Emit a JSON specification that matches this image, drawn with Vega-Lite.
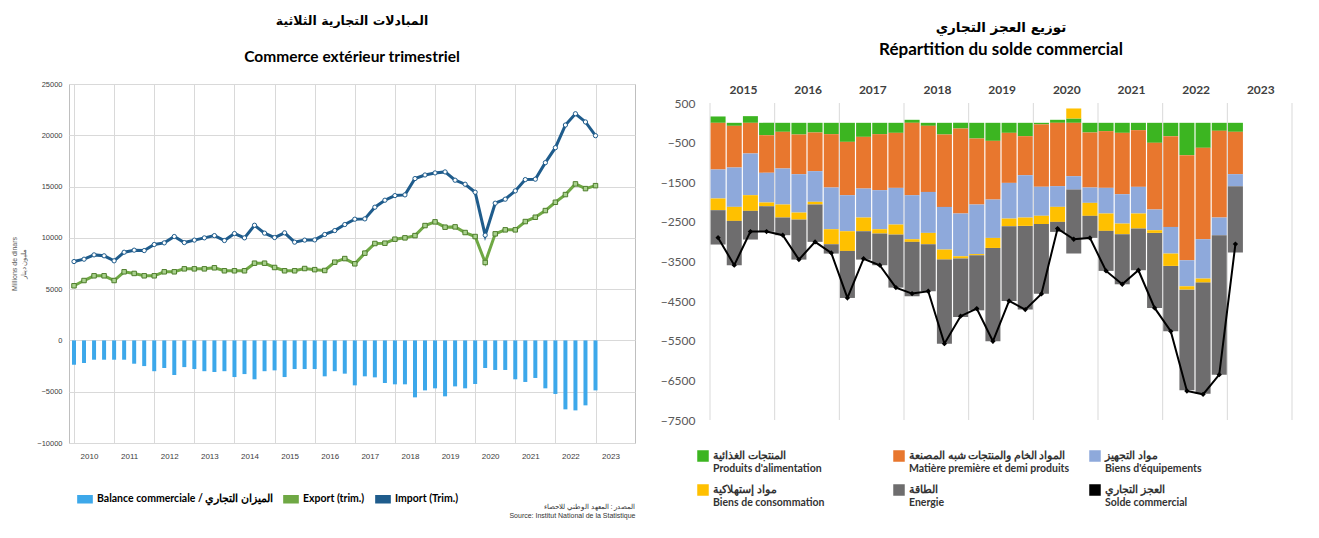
{
  "$schema": "https://vega.github.io/schema/vega-lite/v6.json",
  "background": "white",
  "padding": {"left": 10, "top": 14, "right": 5, "bottom": 5},
  "spacing": 24,
  "resolve": {"scale": {"color": "independent"}, "legend": {"color": "independent"}},
  "config": {
    "font": "Lato",
    "view": {"stroke": "#BFBFBF"},
    "axis": {"gridColor": "#D9D9D9", "ticks": false, "domain": false, "labelColor": "#404040"}
  },
  "datasets": {
    "trade": [
      {"t": 2010.00, "exp": 5330, "imp": 7690, "bal": -2370},
      {"t": 2010.25, "exp": 5840, "imp": 7920, "bal": -2200},
      {"t": 2010.50, "exp": 6300, "imp": 8340, "bal": -1880},
      {"t": 2010.75, "exp": 6300, "imp": 8250, "bal": -1880},
      {"t": 2011.00, "exp": 5840, "imp": 7760, "bal": -1880},
      {"t": 2011.25, "exp": 6690, "imp": 8600, "bal": -1880},
      {"t": 2011.50, "exp": 6530, "imp": 8800, "bal": -2270},
      {"t": 2011.75, "exp": 6300, "imp": 8760, "bal": -2500},
      {"t": 2012.00, "exp": 6300, "imp": 9350, "bal": -3000},
      {"t": 2012.25, "exp": 6690, "imp": 9510, "bal": -2690},
      {"t": 2012.50, "exp": 6690, "imp": 10130, "bal": -3370},
      {"t": 2012.75, "exp": 6980, "imp": 9540, "bal": -2600},
      {"t": 2013.00, "exp": 6980, "imp": 9780, "bal": -2790},
      {"t": 2013.25, "exp": 6980, "imp": 10000, "bal": -3000},
      {"t": 2013.50, "exp": 7080, "imp": 10220, "bal": -3080},
      {"t": 2013.75, "exp": 6790, "imp": 9740, "bal": -3000},
      {"t": 2014.00, "exp": 6790, "imp": 10420, "bal": -3570},
      {"t": 2014.25, "exp": 6790, "imp": 10000, "bal": -3280},
      {"t": 2014.50, "exp": 7530, "imp": 11230, "bal": -3790},
      {"t": 2014.75, "exp": 7530, "imp": 10460, "bal": -3000},
      {"t": 2015.00, "exp": 7110, "imp": 10030, "bal": -2920},
      {"t": 2015.25, "exp": 6790, "imp": 10490, "bal": -3570},
      {"t": 2015.50, "exp": 6790, "imp": 9580, "bal": -2790},
      {"t": 2015.75, "exp": 7010, "imp": 9780, "bal": -2790},
      {"t": 2016.00, "exp": 6900, "imp": 9800, "bal": -2790},
      {"t": 2016.25, "exp": 6820, "imp": 10330, "bal": -3500},
      {"t": 2016.50, "exp": 7630, "imp": 10710, "bal": -3000},
      {"t": 2016.75, "exp": 7980, "imp": 11300, "bal": -3240},
      {"t": 2017.00, "exp": 7470, "imp": 11820, "bal": -4380},
      {"t": 2017.25, "exp": 8510, "imp": 11850, "bal": -3500},
      {"t": 2017.50, "exp": 9450, "imp": 12990, "bal": -3600},
      {"t": 2017.75, "exp": 9480, "imp": 13670, "bal": -4150},
      {"t": 2018.00, "exp": 9870, "imp": 14120, "bal": -4280},
      {"t": 2018.25, "exp": 10000, "imp": 14190, "bal": -4280},
      {"t": 2018.50, "exp": 10220, "imp": 15780, "bal": -5550},
      {"t": 2018.75, "exp": 11200, "imp": 16130, "bal": -4870},
      {"t": 2019.00, "exp": 11560, "imp": 16330, "bal": -4670},
      {"t": 2019.25, "exp": 11040, "imp": 16430, "bal": -5450},
      {"t": 2019.50, "exp": 11070, "imp": 15620, "bal": -4480},
      {"t": 2019.75, "exp": 10520, "imp": 15230, "bal": -4670},
      {"t": 2020.00, "exp": 10130, "imp": 14450, "bal": -4250},
      {"t": 2020.25, "exp": 7600, "imp": 10260, "bal": -2690},
      {"t": 2020.50, "exp": 10390, "imp": 13380, "bal": -2880},
      {"t": 2020.75, "exp": 10780, "imp": 13770, "bal": -2880},
      {"t": 2021.00, "exp": 10780, "imp": 14580, "bal": -3790},
      {"t": 2021.25, "exp": 11590, "imp": 15680, "bal": -4050},
      {"t": 2021.50, "exp": 12010, "imp": 15720, "bal": -3660},
      {"t": 2021.75, "exp": 12660, "imp": 17330, "bal": -4670},
      {"t": 2022.00, "exp": 13470, "imp": 18790, "bal": -5220},
      {"t": 2022.25, "exp": 14220, "imp": 21000, "bal": -6720},
      {"t": 2022.50, "exp": 15260, "imp": 22100, "bal": -6820},
      {"t": 2022.75, "exp": 14800, "imp": 21300, "bal": -6330},
      {"t": 2023.00, "exp": 15090, "imp": 19960, "bal": -4870}
    ],
    "solde": [
      {"t": 2015.125, "1food": 160, "2raw": -1178, "3equip": -732, "4cons": -295, "5energy": -867, "6solde": -2900},
      {"t": 2015.375, "1food": -76, "2raw": -1052, "3equip": -993, "4cons": -354, "5energy": -1120, "6solde": -3594},
      {"t": 2015.625, "1food": 168, "2raw": -774, "3equip": -1052, "4cons": -396, "5energy": -724, "6solde": -2744},
      {"t": 2015.875, "1food": -311, "2raw": -951, "3equip": -749, "4cons": -93, "5energy": -648, "6solde": -2744},
      {"t": 2016.125, "1food": -227, "2raw": -926, "3equip": -909, "4cons": -328, "5energy": -446, "6solde": -2837},
      {"t": 2016.375, "1food": -295, "2raw": -1002, "3equip": -968, "4cons": -177, "5energy": -1010, "6solde": -3451},
      {"t": 2016.625, "1food": -244, "2raw": -976, "3equip": -774, "4cons": -67, "5energy": -943, "6solde": -3005},
      {"t": 2016.875, "1food": -286, "2raw": -1347, "3equip": -1052, "4cons": -379, "5energy": -236, "6solde": -3283},
      {"t": 2017.125, "1food": -480, "2raw": -1347, "3equip": -909, "4cons": -497, "5energy": -1187, "6solde": -4419},
      {"t": 2017.375, "1food": -354, "2raw": -1305, "3equip": -732, "4cons": -345, "5energy": -716, "6solde": -3430},
      {"t": 2017.625, "1food": -286, "2raw": -1414, "3equip": -985, "4cons": -109, "5energy": -800, "6solde": -3594},
      {"t": 2017.875, "1food": -253, "2raw": -1389, "3equip": -926, "4cons": -253, "5energy": -1338, "6solde": -4159},
      {"t": 2018.125, "1food": 76, "2raw": -1827, "3equip": -1111, "4cons": -67, "5energy": -1372, "6solde": -4310},
      {"t": 2018.375, "1food": -76, "2raw": -1667, "3equip": -1035, "4cons": -286, "5energy": -1187, "6solde": -4251},
      {"t": 2018.625, "1food": -295, "2raw": -1827, "3equip": -1077, "4cons": -253, "5energy": -2121, "6solde": -5573},
      {"t": 2018.875, "1food": -143, "2raw": -2147, "3equip": -1077, "4cons": -59, "5energy": -1473, "6solde": -4880},
      {"t": 2019.125, "1food": -396, "2raw": -1667, "3equip": -1250, "4cons": -30, "5energy": -1389, "6solde": -4689},
      {"t": 2019.375, "1food": -455, "2raw": -1482, "3equip": -968, "4cons": -253, "5energy": -2357, "6solde": -5514},
      {"t": 2019.625, "1food": -253, "2raw": -1263, "3equip": -901, "4cons": -194, "5energy": -1886, "6solde": -4495},
      {"t": 2019.875, "1food": -337, "2raw": -985, "3equip": -1069, "4cons": -210, "5energy": -2113, "6solde": -4714},
      {"t": 2020.125, "1food": -40, "2raw": -1574, "3equip": -732, "4cons": -210, "5energy": -1759, "6solde": -4318},
      {"t": 2020.375, "1food": 76, "2raw": -1599, "3equip": -522, "4cons": -379, "5energy": -253, "6solde": -2669},
      {"t": 2020.625, "1food": 109, "2raw": -1347, "3equip": -337, "4cons": 253, "5energy": -1616, "6solde": -2938},
      {"t": 2020.875, "1food": -244, "2raw": -1389, "3equip": -387, "4cons": -328, "5energy": -556, "6solde": -2904},
      {"t": 2021.125, "1food": -210, "2raw": -1431, "3equip": -648, "4cons": -438, "5energy": -1010, "6solde": -3738},
      {"t": 2021.375, "1food": -253, "2raw": -1549, "3equip": -741, "4cons": -269, "5energy": -1263, "6solde": -4074},
      {"t": 2021.625, "1food": -185, "2raw": -1431, "3equip": -673, "4cons": -379, "5energy": -1052, "6solde": -3721},
      {"t": 2021.875, "1food": -505, "2raw": -1684, "3equip": -522, "4cons": -67, "5energy": -1894, "6solde": -4672},
      {"t": 2022.125, "1food": -337, "2raw": -2290, "3equip": -673, "4cons": -311, "5energy": -1650, "6solde": -5261},
      {"t": 2022.375, "1food": -817, "2raw": -2652, "3equip": -657, "4cons": -84, "5energy": -2542, "6solde": -6768},
      {"t": 2022.625, "1food": -631, "2raw": -2307, "3equip": -993, "4cons": -101, "5energy": -2803, "6solde": -6852},
      {"t": 2022.875, "1food": -202, "2raw": -2189, "3equip": -446, "4cons": 0, "5energy": -3519, "6solde": -6356},
      {"t": 2023.125, "1food": -227, "2raw": -1069, "3equip": -303, "4cons": 0, "5energy": -1675, "6solde": -3060}
    ]
  },
  "hconcat": [
    {
      "width": 566,
      "height": 359,
      "title": {
        "text": "المبادلات التجارية الثلاثية",
        "subtitle": "Commerce extérieur trimestriel",
        "font": "DejaVu Sans",
        "fontSize": 12.5,
        "fontWeight": "bold",
        "color": "black",
        "subtitleFont": "Lato",
        "subtitleFontSize": 15.5,
        "subtitleFontWeight": "bold",
        "subtitleColor": "black",
        "subtitlePadding": 22,
        "offset": 15,
        "anchor": "middle"
      },
      "data": {"name": "trade"},
      "encoding": {
        "x": {
          "field": "t",
          "type": "quantitative",
          "scale": {"domain": [2010, 2023.86], "nice": false, "zero": false},
          "axis": {
            "values": [2010, 2011, 2012, 2013, 2014, 2015, 2016, 2017, 2018, 2019, 2020, 2021, 2022, 2023],
            "format": "d",
            "labelOffset": 15,
            "labelFont": "Liberation Sans",
            "labelFontSize": 8,
            "labelPadding": 9,
            "title": ["المصدر : المعهد الوطني للاحصاء", "Source: Institut National de la Statistique"],
            "titleFont": "Liberation Sans",
            "titleFontSize": 7,
            "titleFontWeight": "normal",
            "titleColor": "#333333",
            "titleAnchor": "end",
            "titleAlign": "right",
            "titlePadding": 42
          }
        }
      },
      "layer": [
        {
          "mark": {"type": "bar", "size": 4},
          "encoding": {
            "y": {
              "field": "bal",
              "type": "quantitative",
              "scale": {"domain": [-10000, 25000], "nice": false},
              "axis": {
                "values": [-10000, -5000, 0, 5000, 10000, 15000, 20000, 25000],
                "format": "d",
                "labelFont": "Liberation Sans",
                "labelFontSize": 7.5,
                "labelPadding": 7,
                "title": ["Millions de dinars", "مليون دينار"],
                "titleFont": "Liberation Sans",
                "titleFontSize": 7,
                "titleFontWeight": "normal",
                "titleColor": "#595959",
                "titlePadding": 10
              }
            },
            "color": {
              "datum": "Balance commerciale / الميزان التجاري",
              "scale": {
                "domain": ["Balance commerciale / الميزان التجاري", "Export (trim.)", "Import (Trim.)"],
                "range": ["#3DA8EA", "#6FA844", "#1F5C8C"]
              },
              "legend": {
                "orient": "none",
                "legendX": 8,
                "legendY": 407,
                "direction": "horizontal",
                "title": null,
                "symbolType": "M-1,-0.5H1V0.5H-1Z",
                "symbolSize": 200,
                "labelFont": "Lato",
                "labelFontSize": 10.5,
                "labelFontWeight": "bold",
                "labelColor": "black",
                "labelLimit": 300,
                "columnPadding": 7
              }
            }
          }
        },
        {
          "mark": {"type": "line", "strokeWidth": 3},
          "encoding": {
            "y": {"field": "exp", "type": "quantitative"},
            "color": {"datum": "Export (trim.)"}
          }
        },
        {
          "mark": {"type": "point", "shape": "square", "filled": true, "size": 20, "fill": "#A9D18E", "stroke": "#4E7D2B", "strokeWidth": 1, "opacity": 1},
          "encoding": {"y": {"field": "exp", "type": "quantitative"}}
        },
        {
          "mark": {"type": "line", "strokeWidth": 3},
          "encoding": {
            "y": {"field": "imp", "type": "quantitative"},
            "color": {"datum": "Import (Trim.)"}
          }
        },
        {
          "mark": {"type": "point", "shape": "circle", "filled": true, "size": 18, "fill": "white", "stroke": "#1F5C8C", "strokeWidth": 1, "opacity": 1},
          "encoding": {"y": {"field": "imp", "type": "quantitative"}}
        }
      ]
    },
    {
      "width": 592,
      "height": 336,
      "view": {"stroke": null},
      "title": {
        "text": "توزيع العجز التجاري",
        "subtitle": "Répartition du solde commercial",
        "font": "DejaVu Sans",
        "fontSize": 13.5,
        "fontWeight": "bold",
        "color": "black",
        "subtitleFont": "Lato",
        "subtitleFontSize": 17,
        "subtitleFontWeight": "bold",
        "subtitleColor": "black",
        "subtitlePadding": 8,
        "offset": 25,
        "anchor": "middle"
      },
      "data": {"name": "solde"},
      "encoding": {
        "x": {
          "field": "t",
          "type": "quantitative",
          "scale": {"domain": [2015, 2024], "nice": false, "zero": false},
          "axis": {
            "orient": "top",
            "offset": -19,
            "grid": false,
            "values": [2015, 2016, 2017, 2018, 2019, 2020, 2021, 2022, 2023],
            "format": "d",
            "labelOffset": 33,
            "labelFont": "Lato",
            "labelFontSize": 12,
            "labelFontWeight": "bold",
            "labelColor": "#404040",
            "labelPadding": 7,
            "title": null
          }
        }
      },
      "layer": [
        {
          "data": {"values": [{"yr": 2015}, {"yr": 2016}, {"yr": 2017}, {"yr": 2018}, {"yr": 2019}, {"yr": 2020}, {"yr": 2021}, {"yr": 2022}, {"yr": 2023}, {"yr": 2024}]},
          "mark": {"type": "rule", "color": "#D9D9D9", "strokeWidth": 1},
          "encoding": {
            "x": {"field": "yr", "type": "quantitative"},
            "y": {"datum": -7500, "type": "quantitative"},
            "y2": {"datum": 500}
          }
        },
        {
          "transform": [{"fold": ["1food", "2raw", "3equip", "4cons", "5energy"], "as": ["cat", "v"]}],
          "mark": {"type": "bar", "size": 15},
          "encoding": {
            "y": {
              "field": "v",
              "type": "quantitative",
              "stack": "zero",
              "scale": {"domain": [-7500, 979.5], "nice": false, "zero": false},
              "axis": {
                "values": [-7500, -6500, -5500, -4500, -3500, -2500, -1500, -500, 500],
                "format": "d",
                "labelFont": "Lato",
                "labelFontSize": 12,
                "labelColor": "#595959",
                "labelPadding": 10,
                "gridColor": "#E3E3E3",
                "title": null
              }
            },
            "order": {"field": "cat", "sort": "ascending"},
            "color": {
              "field": "cat",
              "type": "nominal",
              "scale": {
                "domain": ["1food", "2raw", "3equip", "4cons", "5energy", "6solde"],
                "range": ["#3CB521", "#E8772E", "#8EA9DB", "#FFC000", "#6E6D6E", "#000000"]
              },
              "legend": {
                "orient": "none",
                "legendX": -8,
                "legendY": 366,
                "direction": "horizontal",
                "columns": 3,
                "title": null,
                "symbolType": "square",
                "symbolSize": 100,
                "labelFont": "Lato",
                "labelFontSize": 10.5,
                "labelFontWeight": "bold",
                "labelColor": "#333333",
                "labelLimit": 250,
                "columnPadding": 17,
                "rowPadding": 8,
                "gridAlign": "all",
                "labelExpr": "datum.value == '1food' ? ['المنتجات الغذائية', \"Produits d'alimentation\"] : datum.value == '2raw' ? ['المواد الخام والمنتجات شبه المصنعة', 'Matière première et demi produits'] : datum.value == '3equip' ? ['مواد التجهيز', \"Biens d'équipements\"] : datum.value == '4cons' ? ['مواد إستهلاكية', 'Biens de consommation'] : datum.value == '5energy' ? ['الطاقة', 'Energie'] : ['العجز التجاري', 'Solde  commercial']"
              }
            }
          }
        },
        {
          "mark": {"type": "rule", "color": "black", "strokeWidth": 2.5},
          "encoding": {"y": {"datum": 0}}
        },
        {
          "mark": {"type": "line", "strokeWidth": 2},
          "encoding": {
            "y": {"field": "6solde", "type": "quantitative"},
            "color": {"datum": "6solde"}
          }
        },
        {
          "mark": {"type": "point", "shape": "diamond", "filled": true, "size": 28, "color": "black", "opacity": 1},
          "encoding": {"y": {"field": "6solde", "type": "quantitative"}}
        }
      ]
    }
  ]
}
